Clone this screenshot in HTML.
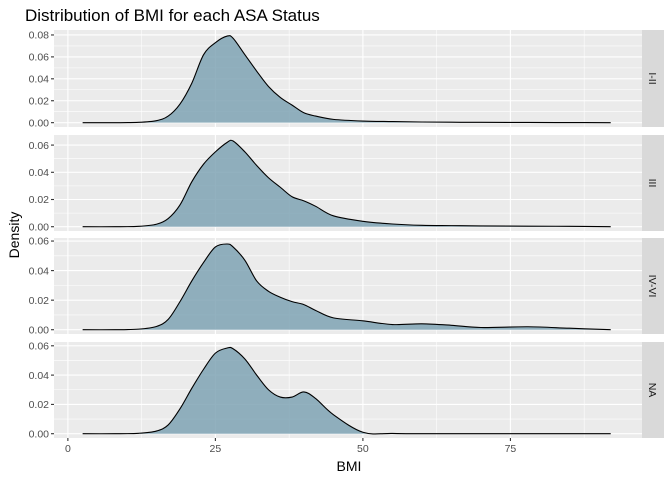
<!DOCTYPE html>
<html><head><meta charset="utf-8"><style>
body{margin:0;background:#fff;}
svg{display:block;font-family:"Liberation Sans",Arial,sans-serif;}
</style></head><body>
<svg id="chart" width="672" height="480">
<text x="25" y="21" font-size="17" fill="#000">Distribution of BMI for each ASA Status</text>
<text x="349" y="471" font-size="14" text-anchor="middle" fill="#000">BMI</text>
<text transform="translate(19,235) rotate(-90)" font-size="14" text-anchor="middle" fill="#000">Density</text>
<g id="panels"></g>
</svg>
<script>
const bmi = [2.5,8,12,15,17,19,21,23,25,27,28,30,32,34,36,38,40,42,45,50,55,60,65,70,78,85,92];
const dens1 = [0,0,0.0003,0.0018,0.006,0.017,0.036,0.062,0.073,0.079,0.077,0.062,0.047,0.033,0.023,0.016,0.009,0.006,0.003,0.0015,0.001,0.0006,0.0004,0.0003,0.0002,0.0001,0];
const dens2 = [0,0,0.0003,0.0018,0.006,0.016,0.033,0.046,0.055,0.062,0.063,0.055,0.045,0.036,0.029,0.022,0.019,0.015,0.008,0.004,0.002,0.001,0.0008,0.0006,0.0004,0.0003,0];
const dens3 = [0,0,0.0004,0.0022,0.007,0.019,0.033,0.0455,0.056,0.058,0.056,0.047,0.033,0.026,0.022,0.019,0.017,0.013,0.008,0.006,0.0035,0.004,0.003,0.0015,0.002,0.001,0];
const dens4 = [0,0,0.0003,0.0018,0.006,0.017,0.031,0.044,0.055,0.0585,0.058,0.051,0.040,0.030,0.025,0.025,0.0285,0.024,0.013,0.001,0.0002,0,0,0,0,0,0];
const groups = ["I-II","III","IV-VI","NA"];
const xTicks = [0,25,50,75];
const yTicks1 = [0,0.02,0.04,0.06,0.08];
const yTicksOther = [0,0.02,0.04,0.06];

const series=[dens1,dens2,dens3,dens4];
const ticksets=[yTicks1,yTicksOther,yTicksOther,yTicksOther];
const layout=[{top:30,bot:127},{top:135,bot:231},{top:238,bot:334},{top:342,bot:438}];
const PL=54, PR=642, SR=664;
const xMin=-2.35, xMax=97.3;
const xs=v=>PL+(v-xMin)/(xMax-xMin)*(PR-PL);
const NS="http://www.w3.org/2000/svg";
const root=document.getElementById('panels');
function mk(tag,attrs,parent){const e=document.createElementNS(NS,tag);for(const k in attrs)e.setAttribute(k,attrs[k]);(parent||root).appendChild(e);return e;}
function smooth(pts){let d=`M${pts[0][0]},${pts[0][1]}`;for(let i=0;i<pts.length-1;i++){const p0=pts[Math.max(0,i-1)],p1=pts[i],p2=pts[i+1],p3=pts[Math.min(pts.length-1,i+2)];
const c1x=p1[0]+(p2[0]-p0[0])/6,c1y=p1[1]+(p2[1]-p0[1])/6,c2x=p2[0]-(p3[0]-p1[0])/6,c2y=p2[1]-(p3[1]-p1[1])/6;
d+=` C${c1x},${c1y} ${c2x},${c2y} ${p2[0]},${p2[1]}`;}return d;}

series.forEach((dens,pi)=>{
  const L=layout[pi];
  const peak=Math.max(...dens);
  const yMin=-peak*0.05, yMax=peak*1.07;
  const ys=v=>L.bot-(v-yMin)/(yMax-yMin)*(L.bot-L.top);
  const g=mk('g',{});
  
  
  mk('rect',{x:PL,y:L.top,width:PR-PL,height:L.bot-L.top,fill:'#EBEBEB'},g);
  const tk=ticksets[pi];
  for(let i=0;i<tk.length-1;i++){const m=(tk[i]+tk[i+1])/2;mk('line',{x1:PL,x2:PR,y1:ys(m),y2:ys(m),stroke:'#fff','stroke-width':0.55},g);}
  for(let i=0;i<xTicks.length;i++){const m=xTicks[i]+12.5;if(xs(m)<PR)mk('line',{x1:xs(m),x2:xs(m),y1:L.top,y2:L.bot,stroke:'#fff','stroke-width':0.55},g);}
  tk.forEach(t=>{
    mk('line',{x1:PL,x2:PR,y1:ys(t),y2:ys(t),stroke:'#fff','stroke-width':1.1},g);
    mk('line',{x1:PL-3,x2:PL,y1:ys(t),y2:ys(t),stroke:'#333','stroke-width':1.1},g);
    const lb=mk('text',{x:PL-5,y:ys(t)+3.7,'font-size':10.5,'text-anchor':'end',fill:'#4D4D4D'},g);
    lb.textContent=t.toFixed(2);
    
    
  });
  xTicks.forEach(t=>mk('line',{x1:xs(t),x2:xs(t),y1:L.top,y2:L.bot,stroke:'#fff','stroke-width':1.1},g));
  const pts=bmi.map((b,i)=>[xs(b),ys(dens[i])]);
  const line=smooth(pts);
  const area=mk('path',{d:line+` L${xs(bmi[bmi.length-1])},${ys(0)} L${xs(bmi[0])},${ys(0)} Z`,fill:'#7FA3B4','fill-opacity':0.85},g);
  
  
  const ln=mk('path',{d:line,fill:'none',stroke:'#000','stroke-width':1.1},g);
  
  
  const st=mk('rect',{x:PR,y:L.top,width:SR-PR,height:L.bot-L.top,fill:'#D9D9D9'},g);
  
  
  const cy=(L.top+L.bot)/2;
  const sl=mk('text',{transform:`translate(${PR+7},${cy}) rotate(90)`,'font-size':10.5,'text-anchor':'middle',fill:'#1A1A1A'},g);
  sl.textContent=groups[pi];
  
  
  if(pi===series.length-1){
    xTicks.forEach(t=>{
      mk('line',{x1:xs(t),x2:xs(t),y1:L.bot,y2:L.bot+3,stroke:'#333','stroke-width':1.1},g);
      const xl=mk('text',{x:xs(t),y:L.bot+14,'font-size':10.5,'text-anchor':'middle',fill:'#4D4D4D'},g);
      xl.textContent=t;
      
      
    });
  }
});
</script>
</body></html>
